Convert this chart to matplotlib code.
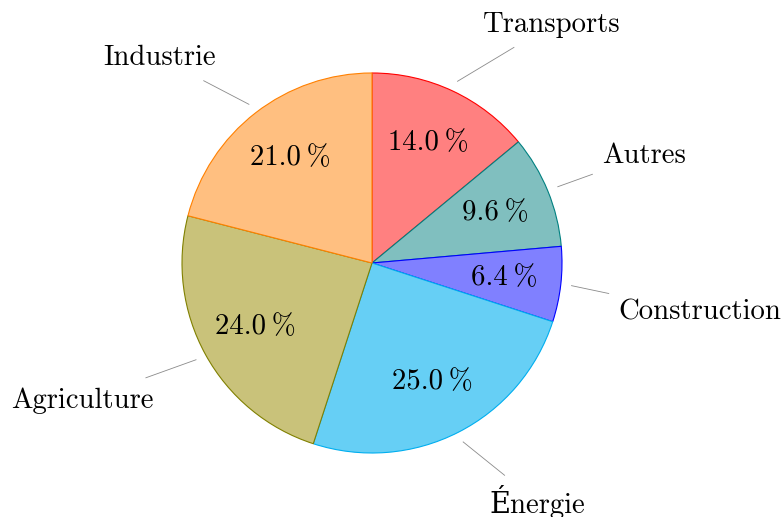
import numpy as np
import matplotlib
matplotlib.use('Agg')
import matplotlib.pyplot as plt

# Parts of the pie, clockwise from the top
labels = ['Transports', 'Autres', 'Construction', 'Énergie', 'Agriculture', 'Industrie']
values = [14.0, 9.6, 6.4, 25.0, 24.0, 21.0]
fills = ['#ff8080', '#80bfbf', '#8080ff', '#66cff5', '#c9c27a', '#ffbf80']
edges = ['#ff0000', '#008080', '#0000ff', '#00aeef', '#808000', '#ff8000']

plt.rcParams['font.family'] = ['cmr10', 'DejaVu Serif']
fs = 20.7

fig = plt.figure(figsize=(7.83, 5.17), dpi=100)
ax = fig.add_axes([0, 0, 1, 1])

wedges, _, pcts = ax.pie(values, colors=fills, startangle=90, counterclock=False,
                         radius=1, pctdistance=0.7,
                         autopct=lambda p: f'{p:.1f}\u2009%',
                         wedgeprops=dict(linewidth=0.8),
                         textprops=dict(fontsize=fs))
for w, ec in zip(wedges, edges):
    w.set_edgecolor(ec)

# pie centre at (372, 263) px, radius 190 px
scale = 190.0
ax.set_xlim(-372 / scale, (783 - 372) / scale)
ax.set_ylim(-(517 - 263) / scale, 263 / scale)
ax.set_aspect('auto')
ax.axis('off')


def anchor(a, lab):
    # like tikz label anchors (compass with 2 deg snap)
    bottom = 'bottom' if any(c in 'gjpqy' for c in lab) else 'baseline'
    a = a % 360
    if a < 2 or a >= 358:
        return 'left', 'center', 1, 0
    if a < 88:
        return 'left', bottom, 1, 1
    if a < 92:
        return 'center', bottom, 0, 1
    if a < 178:
        return 'right', bottom, -1, 1
    if a < 182:
        return 'right', 'center', -1, 0
    if a < 268:
        return 'right', 'top', -1, -1
    if a < 272:
        return 'center', 'top', 0, -1
    return 'left', 'top', 1, -1


pad = 9.6 / scale
texts = []
for w, lab in zip(wedges, labels):
    mid = np.deg2rad((w.theta1 + w.theta2) / 2)
    ha, va, sx, sy = anchor(np.rad2deg(mid), lab)
    cx, cy = 1.254 * np.cos(mid), 1.254 * np.sin(mid)
    t = ax.text(cx + sx * pad, cy + sy * pad, lab, ha=ha, va=va, fontsize=fs)
    texts.append((t, mid))

fig.canvas.draw()
r = fig.canvas.get_renderer()
inv = ax.transData.inverted()
for t, mid in texts:
    bb = t.get_window_extent(r)
    (x0, y0), (x1, y1) = inv.transform([[bb.x0, bb.y0], [bb.x1, bb.y1]])
    x0, x1, y0, y1 = x0 - pad, x1 + pad, y0 - pad, y1 + pad
    sx0, sy0 = 1.057 * np.cos(mid), 1.057 * np.sin(mid)
    tx, ty = (x0 + x1) / 2, (y0 + y1) / 2
    dx, dy = tx - sx0, ty - sy0
    # leave the box through its border
    k = min((x1 - x0) / 2 / abs(dx) if dx else np.inf,
            (y1 - y0) / 2 / abs(dy) if dy else np.inf)
    ax.plot([sx0, tx - k * dx], [sy0, ty - k * dy], color='#8a8a8a', lw=0.6)

fig.savefig('out.png', dpi=100)
